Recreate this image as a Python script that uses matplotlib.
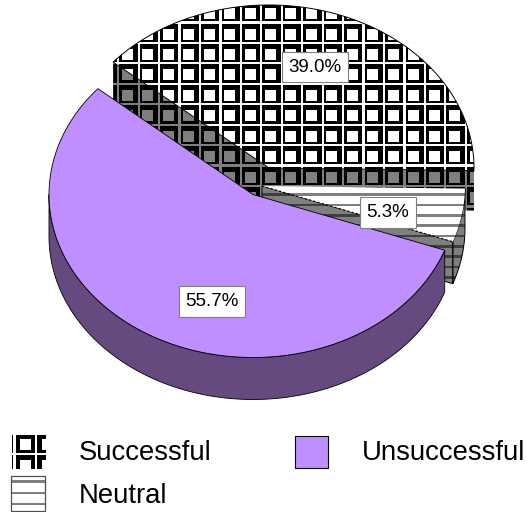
import numpy as np
import matplotlib
matplotlib.use('Agg')
import matplotlib.pyplot as plt
from matplotlib.patches import Polygon, Rectangle

labels = ['Successful', 'Neutral', 'Unsuccessful']
shares = [39.0, 5.3, 55.7]
share_labels = ['39.0%', '5.3%', '55.7%']

plt.rcParams['font.family'] = ['Liberation Sans', 'DejaVu Sans']

W, H = 527, 512
RX, RY = 203, 163
START = 139.5  # where the purple slice starts, degrees

fig = plt.figure(figsize=(W / 100, H / 100), dpi=100)
ax = fig.add_axes([0, 0, 1, 1])
ax.set_xlim(0, W)
ax.set_ylim(H, 0)
ax.axis('off')

xx, yy = np.meshgrid(np.arange(W) + 0.5, np.arange(H) + 0.5)


def squares(period, x0, y0, shade=1.0, line=2.2, ring_x=4.8, ring_y=7.2, inner=11.0):
    # white grid + black rings + white centres
    px = (xx - x0) % period
    py = (yy - y0) % period
    img = np.ones((H, W))
    img[(px > line) & (py > line)] = 0
    img[(px > ring_x) & (px < ring_x + inner) & (py > ring_y) & (py < ring_y + inner)] = 1
    return np.dstack([img * shade] * 3)


def stripes(period, y0, shade=1.0):
    py = (yy - y0) % period
    img = np.ones((H, W))
    img[py < 2.6] = 0.5
    return np.dstack([img * shade] * 3)


def fill_image(patch, img, z):
    ax.add_patch(patch)
    im = ax.imshow(img, extent=(0, W, H, 0), interpolation='nearest', zorder=z)
    im.set_clip_path(patch)


def arc(cx, cy, a0, a1, rx=RX, ry=RY, n=120):
    t = np.radians(np.linspace(a0, a1, n))
    return np.column_stack([cx + rx * np.cos(t), cy - ry * np.sin(t)])


def top_face(cx, cy, a0, a1, rx=RX, ry=RY):
    return np.vstack([[cx, cy], arc(cx, cy, a0, a1, rx, ry)])


def side_wall(cx, cy, a0, a1, depth, rx=RX, ry=RY):
    a = arc(cx, cy, a0, a1, rx, ry)
    return np.vstack([a, (a + [0, depth])[::-1]])


def radial_wall(cx, cy, ang, depth, rx=RX, ry=RY):
    e = arc(cx, cy, ang, ang, rx, ry, n=1)[0]
    return np.array([[cx, cy], e, e + [0, depth], [cx, cy + depth]])


# slice angles come from the shares, counter clockwise from the purple start
purple_end = START + shares[2] * 3.6
neutral_end = purple_end + shares[1] * 3.6
success_end = neutral_end + shares[0] * 3.6

# Successful slice
c1 = (269, 168)
d1 = 40
sq_top = squares(20.45, 219.3, 82.7)
sq_wall = squares(20.45, 219.3, 82.7, 0.5)
fill_image(Polygon(radial_wall(*c1, success_end, d1, rx=205), ec='none', fc='none'), sq_wall, 1)
fill_image(Polygon(radial_wall(*c1, neutral_end, d1, rx=205), ec='none', fc='none'), sq_wall, 1)
fill_image(Polygon(side_wall(*c1, neutral_end, 360, d1, rx=205), ec='none', fc='none'), sq_wall, 1)
fill_image(Polygon(top_face(*c1, neutral_end, success_end, rx=205), ec='none', fc='none'), sq_top, 2)
ax.add_patch(Polygon(top_face(*c1, neutral_end, success_end, rx=205), closed=True,
                     fc='none', ec='black', lw=0.7, zorder=3))

# Neutral slice
c2 = (262, 186)
d2 = 42
st_top = stripes(10.3, 193.5)
st_wall = stripes(10.3, 193.5, 0.5)
fill_image(Polygon(radial_wall(*c2, purple_end, d2), ec='none', fc='none'), st_wall, 4)
fill_image(Polygon(side_wall(*c2, purple_end, neutral_end, d2), ec='none', fc='none'), st_wall, 4)
ax.add_patch(Polygon(radial_wall(*c2, purple_end, d2), closed=True,
                     fc='none', ec='black', lw=0.7, zorder=5))
ax.add_patch(Polygon(side_wall(*c2, purple_end, neutral_end, d2), closed=True,
                     fc='none', ec='black', lw=0.7, zorder=5))
fill_image(Polygon(top_face(*c2, purple_end, neutral_end), ec='none', fc='none'), st_top, 6)
neutral_edge = top_face(*c2, purple_end, neutral_end)
ax.plot(neutral_edge[:2, 0], neutral_edge[:2, 1], color='black', lw=0.8, ls=(0, (2, 2)), zorder=7)

# Unsuccessful slice
c3 = (253, 194.5)
d3 = 42
ax.add_patch(Polygon(side_wall(*c3, 180, purple_end, d3, rx=204), closed=True,
                     fc='#654A80', ec='black', lw=0.6, zorder=8))
ax.add_patch(Polygon(top_face(*c3, START, purple_end, rx=204), closed=True,
                     fc='#C08FFF', ec='black', lw=0.6, zorder=9))

# Percent labels
label_pos = [(315, 67), (388, 212.5), (212, 301.5)]
for (lx, ly), s in zip(label_pos, share_labels):
    ax.text(lx, ly, s, ha='center', va='center', fontsize=13.5, zorder=12,
            bbox=dict(boxstyle='square,pad=0.35', fc='white', ec='#808080', lw=0.8))

# Legend
fill_image(Rectangle((11.5, 435), 33.5, 34, ec='none', fc='none'),
           squares(21.5, 12.5, 452.7, line=2.3, ring_x=6.5, ring_y=7.8, inner=10.8), 10)
fill_image(Rectangle((11, 476), 34, 35, ec='none', fc='none'), stripes(11.2, 480.5), 10)
ax.add_patch(Rectangle((11, 476), 34, 35, fc='none', ec='#505050', lw=0.9, zorder=11))
ax.add_patch(Rectangle((295, 436), 33, 32, fc='#C08FFF', ec='black', lw=0.8, zorder=11))
legend_pos = [(79, 453.5), (79, 496), (362, 453.5)]
for (lx, ly), s in zip(legend_pos, labels):
    ax.text(lx, ly, s, ha='left', va='center', fontsize=19.8, zorder=12)

ax.set_xlim(0, W)
ax.set_ylim(H, 0)
fig.savefig('out.png', dpi=100)
